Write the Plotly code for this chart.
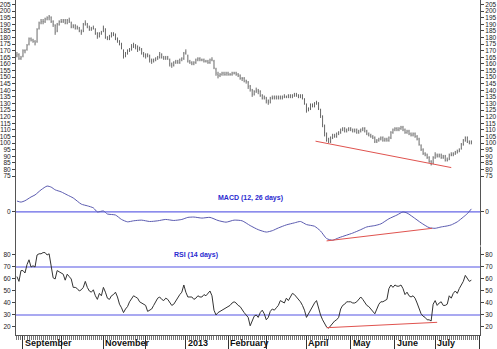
import pandas as pd
import plotly.graph_objects as go

# NYSE closures in the period (incl. the Sandy closure)
holidays = ["2012-09-03", "2012-10-29", "2012-10-30", "2012-11-22", "2012-12-25",
            "2013-01-01", "2013-01-21", "2013-02-18", "2013-03-29", "2013-05-27",
            "2013-07-04"]
trade_days = pd.bdate_range("2012-08-29", "2013-08-01", freq="C", holidays=holidays)

opens = [166, 167, 164, 166, 170, 171, 175, 179, 178, 177,
         177, 187, 191, 192, 192, 194, 195, 195, 192, 189,
         185, 190, 192, 192, 193, 191, 193, 191, 188, 189,
         187, 187, 185, 185, 190, 190, 188, 186, 187, 186,
         183, 181, 183, 185, 186, 180, 179, 181, 183, 182,
         179, 177, 175, 170, 166, 168, 170, 171, 173, 174,
         173, 171, 171, 168, 167, 166, 166, 163, 162, 163,
         164, 165, 167, 165, 164, 165, 163, 160, 159, 161,
         162, 161, 163, 164, 168, 166, 162, 161, 160, 161,
         163, 164, 163, 163, 162, 162, 161, 163, 162, 156,
         152, 151, 152, 153, 152, 153, 152, 152, 153, 153,
         152, 151, 149, 149, 147, 146, 143, 140, 137, 139,
         140, 139, 136, 134, 134, 132, 131, 134, 134, 135,
         134, 135, 134, 135, 135, 135, 136, 135, 136, 137,
         136, 135, 136, 133, 129, 125, 126, 129, 128, 130,
         130, 125, 120, 113, 107, 103, 101, 104, 106, 105,
         107, 108, 110, 111, 109, 110, 111, 110, 109, 110,
         108, 109, 110, 111, 109, 107, 106, 105, 104, 101,
         102, 103, 104, 102, 103, 102, 104, 108, 110, 111,
         110, 111, 112, 110, 108, 109, 107, 106, 107, 105,
         103, 98, 95, 92, 91, 89, 86, 85, 89, 91,
         90, 91, 89, 90, 87, 88, 91, 91, 92, 93,
         94, 96, 99, 102, 104, 101, 100]
highs = [169, 168, 166, 171, 171, 175, 180, 180, 179, 178,
         187, 192, 194, 194, 195, 196, 197, 196, 193, 190,
         191, 193, 194, 194, 194, 194, 195, 192, 190, 190,
         189, 188, 186, 191, 193, 191, 189, 188, 189, 187,
         184, 184, 185, 189, 187, 181, 182, 184, 184, 183,
         180, 178, 176, 171, 169, 171, 172, 175, 176, 175,
         174, 173, 172, 169, 168, 168, 167, 164, 164, 165,
         166, 169, 168, 166, 166, 166, 164, 161, 162, 163,
         163, 164, 165, 169, 171, 167, 163, 162, 162, 164,
         165, 165, 164, 164, 163, 163, 164, 165, 163, 157,
         154, 153, 154, 154, 154, 154, 153, 154, 154, 154,
         153, 152, 150, 150, 148, 147, 144, 141, 140, 142,
         141, 140, 137, 136, 135, 133, 135, 136, 136, 136,
         136, 136, 136, 137, 136, 137, 137, 137, 138, 138,
         137, 137, 137, 134, 130, 127, 130, 130, 131, 132,
         131, 126, 121, 114, 108, 104, 105, 107, 107, 108,
         109, 111, 112, 112, 111, 112, 112, 111, 111, 111,
         110, 111, 112, 112, 110, 108, 107, 106, 105, 103,
         104, 105, 105, 104, 104, 105, 109, 111, 112, 112,
         112, 113, 113, 111, 110, 110, 108, 108, 108, 106,
         104, 99, 96, 93, 92, 90, 87, 90, 93, 92,
         92, 92, 91, 91, 89, 92, 93, 93, 94, 95,
         96, 100, 103, 105, 105, 102, 102]
lows = [165, 163, 163, 165, 168, 170, 174, 177, 176, 174,
        176, 186, 190, 190, 191, 193, 193, 191, 188, 182,
        184, 189, 191, 191, 190, 190, 191, 187, 187, 186,
        186, 184, 182, 184, 189, 187, 185, 185, 186, 182,
        179, 180, 182, 184, 179, 178, 178, 180, 181, 178,
        176, 174, 171, 164, 165, 167, 169, 170, 172, 171,
        169, 170, 167, 165, 164, 165, 161, 160, 161, 162,
        163, 164, 164, 163, 163, 163, 158, 157, 158, 160,
        160, 160, 162, 163, 167, 161, 160, 159, 159, 160,
        162, 162, 162, 161, 161, 160, 160, 162, 156, 151,
        149, 150, 151, 151, 151, 151, 151, 151, 152, 151,
        150, 148, 147, 146, 145, 141, 139, 135, 136, 138,
        137, 135, 133, 133, 130, 129, 130, 133, 133, 133,
        133, 133, 133, 134, 134, 134, 134, 134, 135, 135,
        134, 134, 133, 129, 123, 124, 125, 127, 127, 129,
        125, 119, 112, 105, 101, 100, 100, 103, 104, 104,
        106, 107, 109, 108, 108, 109, 109, 108, 108, 107,
        107, 108, 109, 108, 106, 105, 104, 103, 100, 100,
        101, 102, 101, 101, 101, 101, 103, 107, 109, 109,
        109, 110, 109, 107, 107, 106, 105, 105, 104, 102,
        98, 94, 91, 90, 88, 85, 83, 84, 88, 89,
        89, 88, 88, 86, 86, 87, 90, 90, 91, 92,
        93, 95, 98, 101, 100, 99, 99]
closes = [167, 164, 165, 170, 170, 174, 179, 178, 177, 176,
          186, 191, 192, 192, 194, 195, 196, 192, 190, 184,
          190, 192, 192, 193, 191, 193, 192, 188, 189, 187,
          188, 185, 184, 190, 191, 188, 186, 187, 187, 183,
          181, 183, 184, 187, 180, 179, 181, 183, 182, 179,
          178, 175, 172, 166, 168, 170, 171, 173, 174, 173,
          171, 172, 168, 167, 166, 167, 163, 162, 163, 164,
          165, 167, 165, 164, 165, 164, 160, 159, 161, 162,
          161, 163, 164, 168, 169, 162, 161, 160, 161, 163,
          164, 163, 163, 162, 162, 161, 163, 163, 157, 153,
          151, 152, 153, 152, 153, 152, 152, 153, 153, 152,
          151, 149, 149, 147, 147, 143, 141, 137, 139, 140,
          139, 136, 134, 135, 132, 131, 134, 134, 135, 134,
          135, 134, 135, 135, 135, 136, 135, 136, 137, 136,
          135, 136, 134, 130, 125, 126, 129, 128, 130, 131,
          126, 121, 114, 108, 102, 101, 104, 106, 105, 107,
          108, 110, 111, 109, 110, 111, 110, 109, 110, 108,
          109, 110, 111, 109, 107, 106, 105, 104, 101, 102,
          103, 104, 102, 103, 102, 104, 108, 110, 111, 110,
          111, 112, 110, 108, 109, 107, 106, 107, 105, 103,
          99, 95, 92, 91, 89, 86, 84, 89, 91, 90,
          91, 89, 90, 87, 87, 91, 91, 92, 93, 94,
          95, 99, 102, 104, 101, 100, 101]

# MACD (12, 26), read at the listed trading-day numbers
macd_day = [0, 2, 4, 7, 9, 12, 15, 17, 19, 22, 25, 28, 32, 35, 38, 40, 43, 45, 49,
            52, 55, 58, 62, 66, 70, 74, 78, 82, 85, 88, 92, 96, 100, 104, 108, 112,
            116, 120, 124, 127, 130, 134, 138, 141, 144, 148, 151, 154, 157, 160,
            164, 167, 171, 174, 178, 181, 185, 189, 192, 194, 197, 201, 205, 208,
            211, 214, 216, 219, 222, 224, 226]
macd_val = [3.2, 2.9, 3.3, 4.4, 5.0, 6.5, 7.6, 7.3, 6.5, 5.9, 5.0, 4.1, 2.3, 1.8, 1.2,
            0.0, 0.3, -0.6, -0.9, -2.2, -2.9, -2.6, -2.4, -2.8, -2.6, -2.2, -2.5, -2.2,
            -1.6, -1.5, -1.8, -1.6, -2.5, -3.0, -2.4, -2.6, -4.0, -5.2, -5.9, -5.5,
            -4.7, -3.8, -3.2, -2.8, -3.7, -4.2, -5.6, -7.8, -8.3, -7.6, -6.8, -6.2,
            -5.2, -4.4, -4.0, -3.5, -2.0, -0.9, 0.0, -0.3, -1.5, -3.2, -4.6, -4.8,
            -4.4, -4.1, -3.8, -2.9, -1.5, -0.5, 0.9]

# RSI (14 days), one value per trading day
rsi = [62, 58, 67, 67, 65, 72, 76, 70, 71, 70,
       80, 81, 81, 82, 82, 80, 81, 71, 61, 60,
       67, 66, 65, 64, 59, 64, 62, 60, 53, 53,
       52, 50, 51, 53, 58, 53, 50, 49, 51, 46,
       43, 48, 46, 53, 49, 44, 43, 46, 47, 49,
       45, 39, 36, 32, 35, 37, 41, 44, 46, 45,
       44, 41, 40, 39, 38, 33, 34, 35, 38, 41,
       44, 45, 43, 42, 44, 43, 40, 38, 39, 42,
       45, 47, 49, 55, 49, 45, 45, 45, 43, 44,
       46, 45, 45, 47, 46, 48, 50, 46, 34, 30,
       32, 33, 34, 35, 36, 37, 38, 40, 41, 40,
       38, 37, 34, 32, 30, 28, 21, 25, 29, 30,
       28, 32, 34, 31, 26, 28, 33, 35, 34, 36,
       38, 42, 41, 40, 44, 42, 45, 48, 47, 45,
       43, 41, 38, 34, 28, 31, 35, 37, 40, 42,
       35, 30, 26, 23, 20, 19, 21, 23, 25, 26,
       28, 35, 38, 39, 41, 41, 41, 40, 40, 41,
       43, 45, 43, 40, 38, 37, 35, 33, 31, 35,
       39, 41, 41, 42, 43, 52, 55, 53, 55, 54,
       54, 55, 52, 47, 49, 46, 45, 46, 44, 40,
       35, 31, 29, 28, 26, 26, 25, 39, 42, 38,
       40, 41, 38, 38, 39, 46, 44, 48, 50, 48,
       52, 55, 58, 63, 60, 58, 59]

# Divergence trend lines (trading-day number, value)
trend_price_day = [148.5, 216]
trend_price_val = [101.4, 81.4]
trend_macd_day = [154, 206.5]
trend_macd_val = [-8.5, -4.8]
trend_rsi_day = [154, 209]
trend_rsi_val = [19.4, 23.9]

month_text = ["September", "", "November", "", "2013", "February", "", "April",
              "May", "June", "July", ""]

price_ticks = list(range(75, 210, 5))
rsi_ticks = [20, 30, 40, 50, 60, 70, 80]
rsi_levels = [70, 30]

days = list(range(len(closes)))
month_start = [i for i in range(1, len(trade_days))
               if trade_days[i].month != trade_days[i - 1].month]

FONT = "Liberation Sans"
INK = "#222222"
BLUE_LINE = "#6666e6"
RED = "#e0534f"
x_range = [-0.47, 230.3]

# paper fractions of the three panels (bottom to top)
d_rsi = [0.0, 0.2687]
d_macd = [0.2687, 0.4537]
d_price = [0.4537, 1.0]

fig = go.Figure()

fig.add_trace(go.Ohlc(
    x=days, open=opens, high=highs, low=lows, close=closes,
    increasing_line_color="#444444", decreasing_line_color="#444444",
    line_width=0.8, tickwidth=0.12, xaxis="x", yaxis="y", hoverinfo="skip",
    showlegend=False))
fig.add_trace(go.Scatter(x=trend_price_day, y=trend_price_val, mode="lines",
                         line=dict(color=RED, width=1), xaxis="x", yaxis="y",
                         showlegend=False, hoverinfo="skip"))

fig.add_trace(go.Scatter(x=[x_range[0], x_range[1]], y=[0, 0], mode="lines",
                         line=dict(color=BLUE_LINE, width=1.2), xaxis="x2", yaxis="y2",
                         showlegend=False, hoverinfo="skip"))
fig.add_trace(go.Scatter(x=macd_day, y=macd_val, mode="lines",
                         line=dict(color="#5b5bb0", width=1, shape="spline", smoothing=0.6),
                         xaxis="x2", yaxis="y2", showlegend=False, hoverinfo="skip"))
fig.add_trace(go.Scatter(x=trend_macd_day, y=trend_macd_val, mode="lines",
                         line=dict(color=RED, width=1), xaxis="x2", yaxis="y2",
                         showlegend=False, hoverinfo="skip"))

for lvl in rsi_levels:
    fig.add_trace(go.Scatter(x=[x_range[0], x_range[1]], y=[lvl, lvl], mode="lines",
                             line=dict(color="#8c8cec", width=1.6), xaxis="x3", yaxis="y3",
                             showlegend=False, hoverinfo="skip"))
fig.add_trace(go.Scatter(x=days, y=rsi, mode="lines", line=dict(color="#333333", width=1),
                         xaxis="x3", yaxis="y3", showlegend=False, hoverinfo="skip"))
fig.add_trace(go.Scatter(x=trend_rsi_day, y=trend_rsi_val, mode="lines",
                         line=dict(color=RED, width=1), xaxis="x3", yaxis="y3",
                         showlegend=False, hoverinfo="skip"))

# empty traces so the right-hand duplicate axes are drawn
for ax in ["y4", "y5", "y6"]:
    fig.add_trace(go.Scatter(x=[None], y=[None], xaxis="x", yaxis=ax,
                             showlegend=False, hoverinfo="skip"))

tickfont = dict(family=FONT, size=6.5, color=INK)
yax = dict(showgrid=False, zeroline=False, ticks="outside", ticklen=3, tickwidth=1,
           tickcolor="#444", showline=True, linecolor="#555", linewidth=1,
           tickfont=tickfont, fixedrange=True)

fig.update_layout(
    width=497, height=349,
    margin=dict(l=15, r=16, t=0, b=14),
    paper_bgcolor="white", plot_bgcolor="white",
    showlegend=False,
    xaxis=dict(domain=[0, 1], anchor="y", range=x_range, showticklabels=False,
               showgrid=False, zeroline=False, showline=False, ticks="",
               rangeslider=dict(visible=False)),
    xaxis2=dict(domain=[0, 1], anchor="y2", matches="x", range=x_range,
                showticklabels=False, showgrid=False, zeroline=False, ticks="",
                showline=True, linecolor="#9a9a9a", linewidth=2),
    xaxis3=dict(domain=[0, 1], anchor="y3", matches="x", range=x_range,
                showticklabels=False, showgrid=False, zeroline=False,
                showline=True, linecolor="#555", linewidth=1,
                tickmode="array", tickvals=month_start, ticks="outside",
                ticklen=14, tickwidth=1, tickcolor="#333",
                minor=dict(tickmode="linear", tick0=0, dtick=1, ticks="outside",
                           ticklen=4, tickwidth=1, tickcolor="#777")),
    yaxis=dict(domain=d_price, anchor="x", range=[69.7, 208.4], tickmode="array",
               tickvals=price_ticks, side="left", **yax),
    yaxis4=dict(overlaying="y", anchor="x", range=[69.7, 208.4], tickmode="array",
                tickvals=price_ticks, side="right", **yax),
    yaxis2=dict(domain=d_macd, anchor="x2", range=[-9.7, 8.5], tickmode="array",
                tickvals=[0], side="left", **yax),
    yaxis5=dict(overlaying="y2", anchor="x2", range=[-9.7, 8.5], tickmode="array",
                tickvals=[0], side="right", **yax),
    yaxis3=dict(domain=d_rsi, anchor="x3", range=[13.33, 88.33], tickmode="array",
                tickvals=rsi_ticks, side="left", **yax),
    yaxis6=dict(overlaying="y3", anchor="x3", range=[13.33, 88.33], tickmode="array",
                tickvals=rsi_ticks, side="right", **yax),
)

# month names, left-aligned after their tick
for pos, txt in zip(month_start, month_text):
    if txt:
        fig.add_annotation(x=pos, xref="x3", y=0, yref="paper", text="<b>" + txt + "</b>",
                           showarrow=False, xanchor="left", yanchor="top",
                           xshift=0, yshift=-1,
                           font=dict(family=FONT, size=9, color="#111"))

label_font = dict(family=FONT, size=7, color="#2a2ad0")
fig.add_annotation(x=0.505, xref="paper", y=0.41, yref="paper",
                   text="<b>MACD (12, 26 days)</b>", showarrow=False,
                   xanchor="center", yanchor="middle", font=label_font)
fig.add_annotation(x=0.389, xref="paper", y=0.2388, yref="paper",
                   text="<b>RSI (14 days)</b>", showarrow=False,
                   xanchor="center", yanchor="middle", font=label_font)

fig.write_html("out.html")
